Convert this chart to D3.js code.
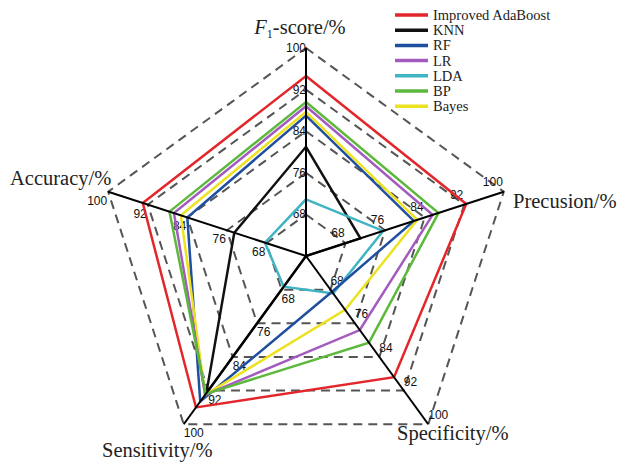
<!DOCTYPE html>
<html>
<head>
<meta charset="utf-8">
<script src="https://cdn.jsdelivr.net/npm/d3@7"></script>
<style>
  body { margin: 0; background: #fff; }
  svg { display: block; }
</style>
</head>
<body>
<div id="chart"></div>
<script>
// axis names, clockwise from the top
const axes = ["F1-score/%", "Precusion/%", "Specificity/%", "Sensitivity/%", "Accuracy/%"];
const ticks = [68, 76, 84, 92, 100];

const seriesNames = ["Improved AdaBoost", "KNN", "RF", "LR", "LDA", "BP", "Bayes"];
const improvedAdaBoost = [94.6, 92.4, 88.8, 96.0, 93.0];
const knn   = [81.0, 71.0, 60.0, 92.6, 74.5];
const rf    = [87.0, 81.8, 68.5, 94.6, 84.0];
const lr    = [88.8, 85.6, 77.6, 93.0, 86.7];
const lda   = [70.9, 75.6, 68.9, 67.3, 68.3];
const bp    = [89.6, 86.8, 80.6, 92.8, 87.6];
const bayes = [87.7, 82.5, 72.8, 93.0, 85.3];

const colors = ["#e3262b", "#111111", "#1f4f9e", "#a35bbf", "#3fb4c4", "#5cb93b", "#ece21f"];

const width = 633, height = 462;
const cx = 306, cy = 256, R = 208;

const svg = d3.select("#chart").append("svg")
    .attr("width", width)
    .attr("height", height);

const r = d3.scaleLinear().domain([60, 100]).range([0, R]);
const angle = d3.scaleLinear().domain([0, axes.length]).range([-Math.PI / 2, 1.5 * Math.PI]);

function point(i, v) {
    const a = angle(i);
    return [cx + r(v) * Math.cos(a), cy + r(v) * Math.sin(a)];
}

const closed = d3.line().curve(d3.curveLinearClosed);

// dashed grid pentagons
svg.append("g")
    .selectAll("path")
    .data(ticks)
    .enter().append("path")
    .attr("d", t => closed(axes.map((a, i) => point(i, t))))
    .attr("fill", "none")
    .attr("stroke", "#555")
    .attr("stroke-width", 2)
    .attr("stroke-dasharray", "9,6");

// tick labels, placed per axis like the original
const labelPlace = [
    { anchor: "end",   dx: 0,  dy: 0 },
    { anchor: "end",   dx: -1, dy: -10 },
    { anchor: "start", dx: 0,  dy: -9 },
    { anchor: "start", dx: 0,  dy: 9 },
    { anchor: "end",   dx: -1, dy: 9 }
];
const tickData = [];
axes.forEach((a, i) => ticks.forEach(t => tickData.push({ i, t })));
svg.append("g")
    .selectAll("text")
    .data(tickData)
    .enter().append("text")
    .attr("x", d => point(d.i, d.t)[0] + labelPlace[d.i].dx)
    .attr("y", d => point(d.i, d.t)[1] + labelPlace[d.i].dy)
    .attr("text-anchor", d => labelPlace[d.i].anchor)
    .attr("dominant-baseline", "central")
    .style("font-family", "'Liberation Sans', Arial, sans-serif")
    .style("font-size", "12px")
    .style("fill", "#111")
    .text(d => d.t);

// series polygons (drawn in this order so red ends on top)
const order = [1, 4, 2, 6, 3, 5, 0];
const seriesValues = [improvedAdaBoost, knn, rf, lr, lda, bp, bayes];
svg.append("g")
    .selectAll("path")
    .data(order)
    .enter().append("path")
    .attr("d", k => closed(seriesValues[k].map((v, i) => point(i, v))))
    .attr("fill", "none")
    .attr("stroke", k => colors[k])
    .attr("stroke-width", 2.5)
    .attr("stroke-linejoin", "miter");

// axis spokes
svg.append("g")
    .selectAll("line")
    .data(axes)
    .enter().append("line")
    .attr("x1", cx)
    .attr("y1", cy)
    .attr("x2", (a, i) => point(i, 100)[0])
    .attr("y2", (a, i) => point(i, 100)[1])
    .attr("stroke", "#000")
    .attr("stroke-width", 2);

// axis titles
const titlePos = [
    { x: 300, y: 34, anchor: "middle" },
    { x: 513, y: 208, anchor: "start" },
    { x: 397, y: 440, anchor: "start" },
    { x: 102, y: 457, anchor: "start" },
    { x: 10,  y: 185, anchor: "start" }
];
const titles = svg.append("g")
    .style("font-family", "'Liberation Serif', 'Times New Roman', serif")
    .style("font-size", "20.5px")
    .style("fill", "#222");

axes.forEach((name, i) => {
    const t = titles.append("text")
        .attr("x", titlePos[i].x)
        .attr("y", titlePos[i].y)
        .attr("text-anchor", titlePos[i].anchor);
    if (i === 0) {
        t.append("tspan").style("font-style", "italic").text("F");
        t.append("tspan").attr("dy", 4).style("font-size", "12px").text("1");
        t.append("tspan").attr("dy", -4).text("-score/%");
    } else {
        t.text(name);
    }
});

// legend
const legend = svg.append("g")
    .selectAll("g")
    .data(seriesNames)
    .enter().append("g")
    .attr("transform", (d, i) => `translate(395, ${15 + i * 15.2})`);

legend.append("line")
    .attr("x1", 0)
    .attr("x2", 33)
    .attr("stroke", (d, i) => colors[i])
    .attr("stroke-width", 3.5);

legend.append("text")
    .attr("x", 38)
    .attr("dominant-baseline", "central")
    .style("font-family", "'Liberation Serif', 'Times New Roman', serif")
    .style("font-size", "14.5px")
    .style("fill", "#222")
    .text(d => d);
</script>
</body>
</html>
